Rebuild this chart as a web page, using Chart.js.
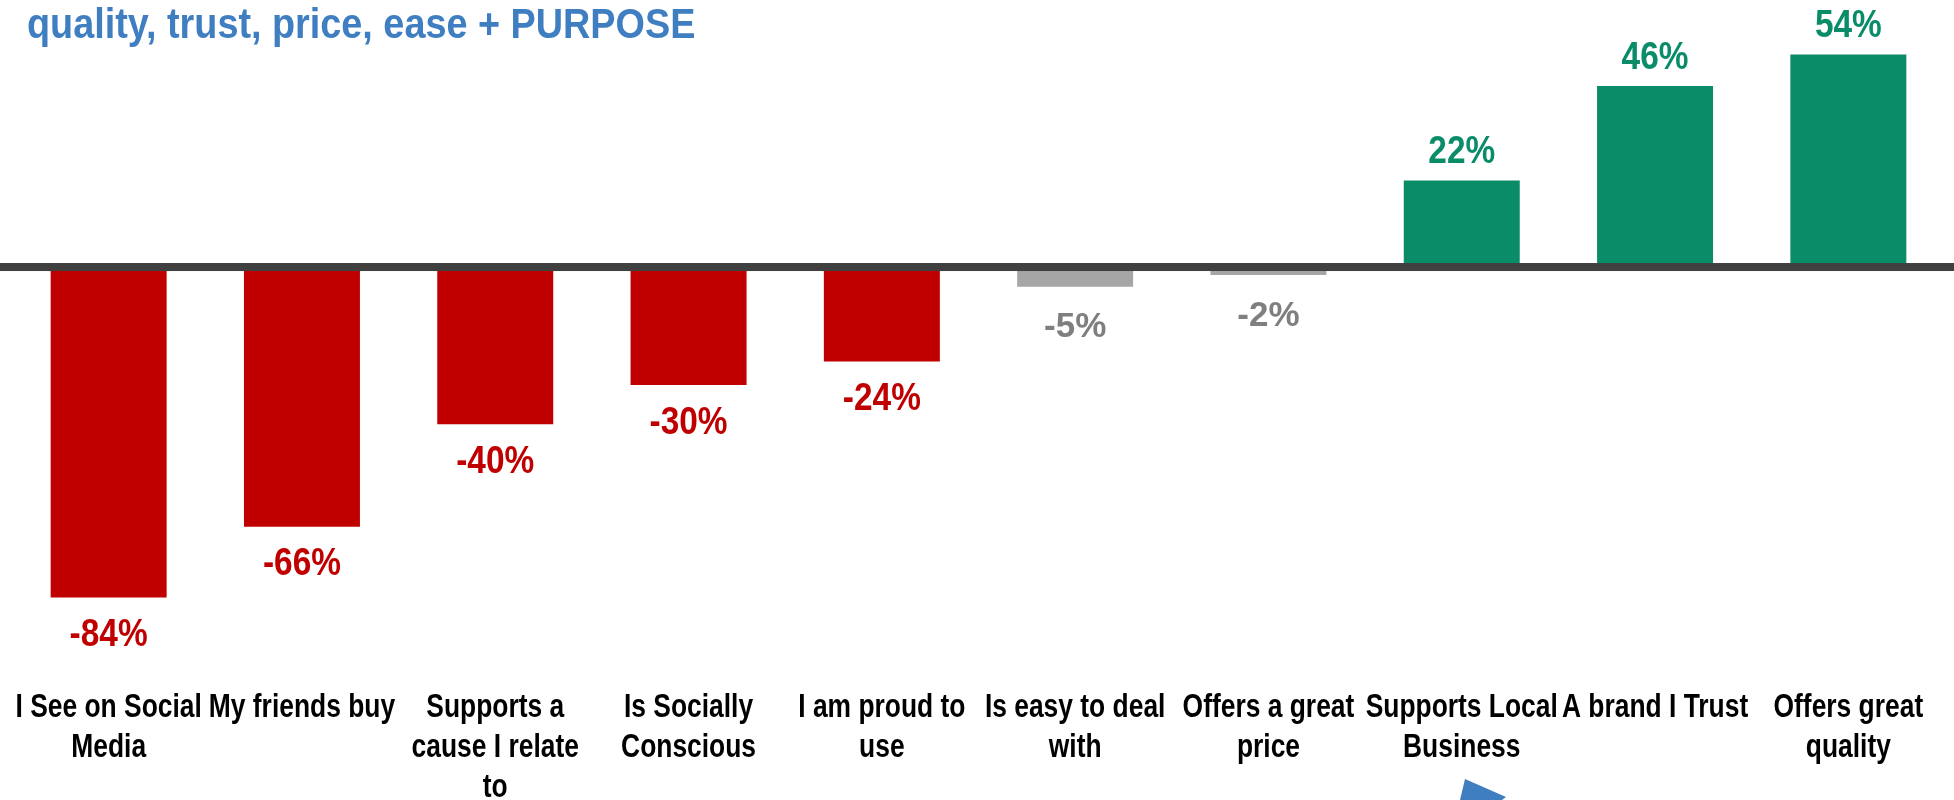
<!DOCTYPE html>
<html>
<head>
<meta charset="utf-8">
<script src="https://cdn.jsdelivr.net/npm/chart.js@4.4.1/dist/chart.umd.min.js"></script>
<style>
  html, body { margin: 0; padding: 0; background: #fff; overflow: hidden; }
  #wrap { position: relative; width: 1954px; height: 800px; }
  #heading {
    position: absolute; left: 27px; top: 3px; margin: 0;
    font-family: "Liberation Sans", Arial, sans-serif;
    font-weight: bold; font-size: 42px; line-height: 42px;
    transform: scaleX(0.9); transform-origin: 0 0;
    color: #3f7ec1; white-space: nowrap;
  }
</style>
</head>
<body>
<div id="wrap">
  <canvas id="drivers" width="1954" height="800"></canvas>
  <div id="heading">quality, trust, price, ease + PURPOSE</div>
</div>
<script>
// categories (multi-line tick labels) and net scores in %
const categories = [
  ["I See on Social", "Media"],
  ["My friends buy"],
  ["Supports a", "cause I relate", "to"],
  ["Is Socially", "Conscious"],
  ["I am proud to", "use"],
  ["Is easy to deal", "with"],
  ["Offers a great", "price"],
  ["Supports Local", "Business"],
  ["A brand I Trust"],
  ["Offers great", "quality"]
];
const scores = [-84, -66, -40, -30, -24, -5, -2, 22, 46, 54];

const RED = "#c00000", GREEN = "#0a8c69", GREY = "#a6a6a6", GREY_TXT = "#7f7f7f";
const SANS = "'Liberation Sans', Arial, sans-serif";

function barColor(v){
  if(v > 0) return GREEN;
  if(v > -10) return GREY;
  return RED;
}

// text squeezed horizontally to mimic a condensed face
function squeezed(ctx, text, x, y, sx){
  ctx.save();
  ctx.translate(x, y);
  ctx.scale(sx, 1);
  ctx.fillText(text, 0, 0);
  ctx.restore();
}

// thick zero line, value labels, category labels and the arrow tip at the bottom
const extras = {
  id: "extras",
  afterDatasetsDraw(chart){
    const ctx = chart.ctx;
    const xs = chart.scales.x;
    const y0 = chart.scales.y.getPixelForValue(0);
    ctx.save();
    ctx.fillStyle = "#404040";
    ctx.fillRect(0, y0 - 4, chart.width, 8);

    ctx.textAlign = "center";
    ctx.textBaseline = "middle";
    const meta = chart.getDatasetMeta(0);
    meta.data.forEach((bar, i) => {
      const v = scores[i];
      if(v > -10 && v < 0){
        ctx.font = "bold 35px " + SANS;
        ctx.fillStyle = GREY_TXT;
        squeezed(ctx, v + "%", bar.x, bar.y + 41, 1);
      } else {
        ctx.font = "bold 38px " + SANS;
        ctx.fillStyle = barColor(v);
        squeezed(ctx, v + "%", bar.x, v >= 0 ? bar.y - 28 : bar.y + 38, 0.88);
      }
    });

    ctx.font = "bold 33px " + SANS;
    ctx.fillStyle = "#000";
    categories.forEach((lines, i) => {
      const x = xs.getPixelForTick(i);
      lines.forEach((t, k) => {
        squeezed(ctx, t, x, chart.chartArea.bottom + 24 + k * 40, 0.8);
      });
    });

    ctx.fillStyle = "#3f7ec1";
    ctx.beginPath();
    ctx.moveTo(1465, 779);
    ctx.lineTo(1506, 797);
    ctx.lineTo(1502, 800);
    ctx.lineTo(1460, 800);
    ctx.closePath();
    ctx.fill();
    ctx.restore();
  }
};

new Chart(document.getElementById("drivers"), {
  type: "bar",
  data: {
    labels: categories,
    datasets: [{
      data: scores,
      backgroundColor: scores.map(barColor),
      borderWidth: 0,
      barPercentage: 0.6,
      categoryPercentage: 1
    }]
  },
  options: {
    responsive: false,
    animation: false,
    layout: { padding: { left: 12, right: 9, top: 31, bottom: 0 } },
    plugins: { legend: { display: false }, tooltip: { enabled: false } },
    scales: {
      x: {
        grid: { display: false, drawTicks: false },
        border: { display: false },
        afterFit: s => { s.height = 116; },
        ticks: { display: false }
      },
      y: {
        display: false,
        min: -106,
        max: 60
      }
    }
  },
  plugins: [extras]
});
</script>
</body>
</html>
